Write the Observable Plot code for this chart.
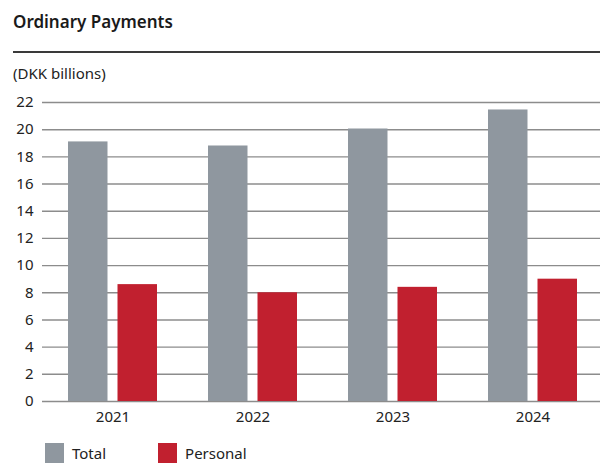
<!DOCTYPE html>
<html>
<head>
<meta charset="utf-8">
<script src="https://cdn.jsdelivr.net/npm/d3@7"></script>
<script src="https://cdn.jsdelivr.net/npm/@observablehq/plot@0.6"></script>
<style>
  body { margin: 0; background: #fff; font-family: "Noto Sans", sans-serif; color: #222; }
  #wrap { position: relative; width: 600px; height: 468px; overflow: hidden; }
  #title { position: absolute; left: 13px; top: 10px; font-size: 17px; font-weight: 600; color: #1a1a1a; }
  #rule { position: absolute; left: 13px; right: 0; top: 51px; height: 2px; background: #3a3a3a; }
  #sub { position: absolute; left: 13px; top: 63px; font-size: 15px; color: #222; }
  #chart { position: absolute; left: 0; top: 90px; }
  #legend { position: absolute; left: 45px; top: 443px; display: flex; align-items: center; font-size: 15px; color: #222; }
  .sw { width: 19px; height: 20px; display: inline-block; margin-right: 8px; }
  .item { display: flex; align-items: center; margin-right: 52px; }
</style>
</head>
<body>
<div id="wrap">
  <div id="title">Ordinary Payments</div>
  <div id="rule"></div>
  <div id="sub">(DKK billions)</div>
  <div id="chart"></div>
  <div id="legend"></div>
</div>
<script>
const years = ["2021", "2022", "2023", "2024"];
const total = [19.1, 18.8, 20.05, 21.45];
const personal = [8.6, 8.0, 8.4, 9.0];
const seriesNames = ["Total", "Personal"];
const seriesColors = ["#8f979f", "#c1202f"];
const yTicks = [0, 2, 4, 6, 8, 10, 12, 14, 16, 18, 20, 22];

const data = years.map((y, i) => ({year: y, total: total[i], personal: personal[i]}));

const chart = Plot.plot({
  width: 600,
  height: 345,
  marginLeft: 42,
  marginRight: 0,
  marginTop: 12,
  marginBottom: 34,
  style: {fontFamily: "Noto Sans, sans-serif", fontSize: "15px", color: "#222"},
  x: {domain: years, range: [40, 604], paddingInner: 0.367, paddingOuter: 0.185, label: null, tickSize: 0, tickPadding: 10},
  y: {domain: [0, 22], ticks: yTicks, label: null, tickSize: 0, tickPadding: 9},
  marks: [
    Plot.ruleY(yTicks, {stroke: "#8c8c8c", strokeWidth: 1.4}),
    Plot.barY(data, {x: "year", y: "total", fill: seriesColors[0], insetRight: 49.5}),
    Plot.barY(data, {x: "year", y: "personal", fill: seriesColors[1], insetLeft: 49.5})
  ]
});
document.getElementById("chart").appendChild(chart);

const legend = document.getElementById("legend");
seriesNames.forEach((name, i) => {
  const item = document.createElement("div");
  item.className = "item";
  item.innerHTML = `<span class="sw" style="background:${seriesColors[i]}"></span><span>${name}</span>`;
  legend.appendChild(item);
});
</script>
</body>
</html>
